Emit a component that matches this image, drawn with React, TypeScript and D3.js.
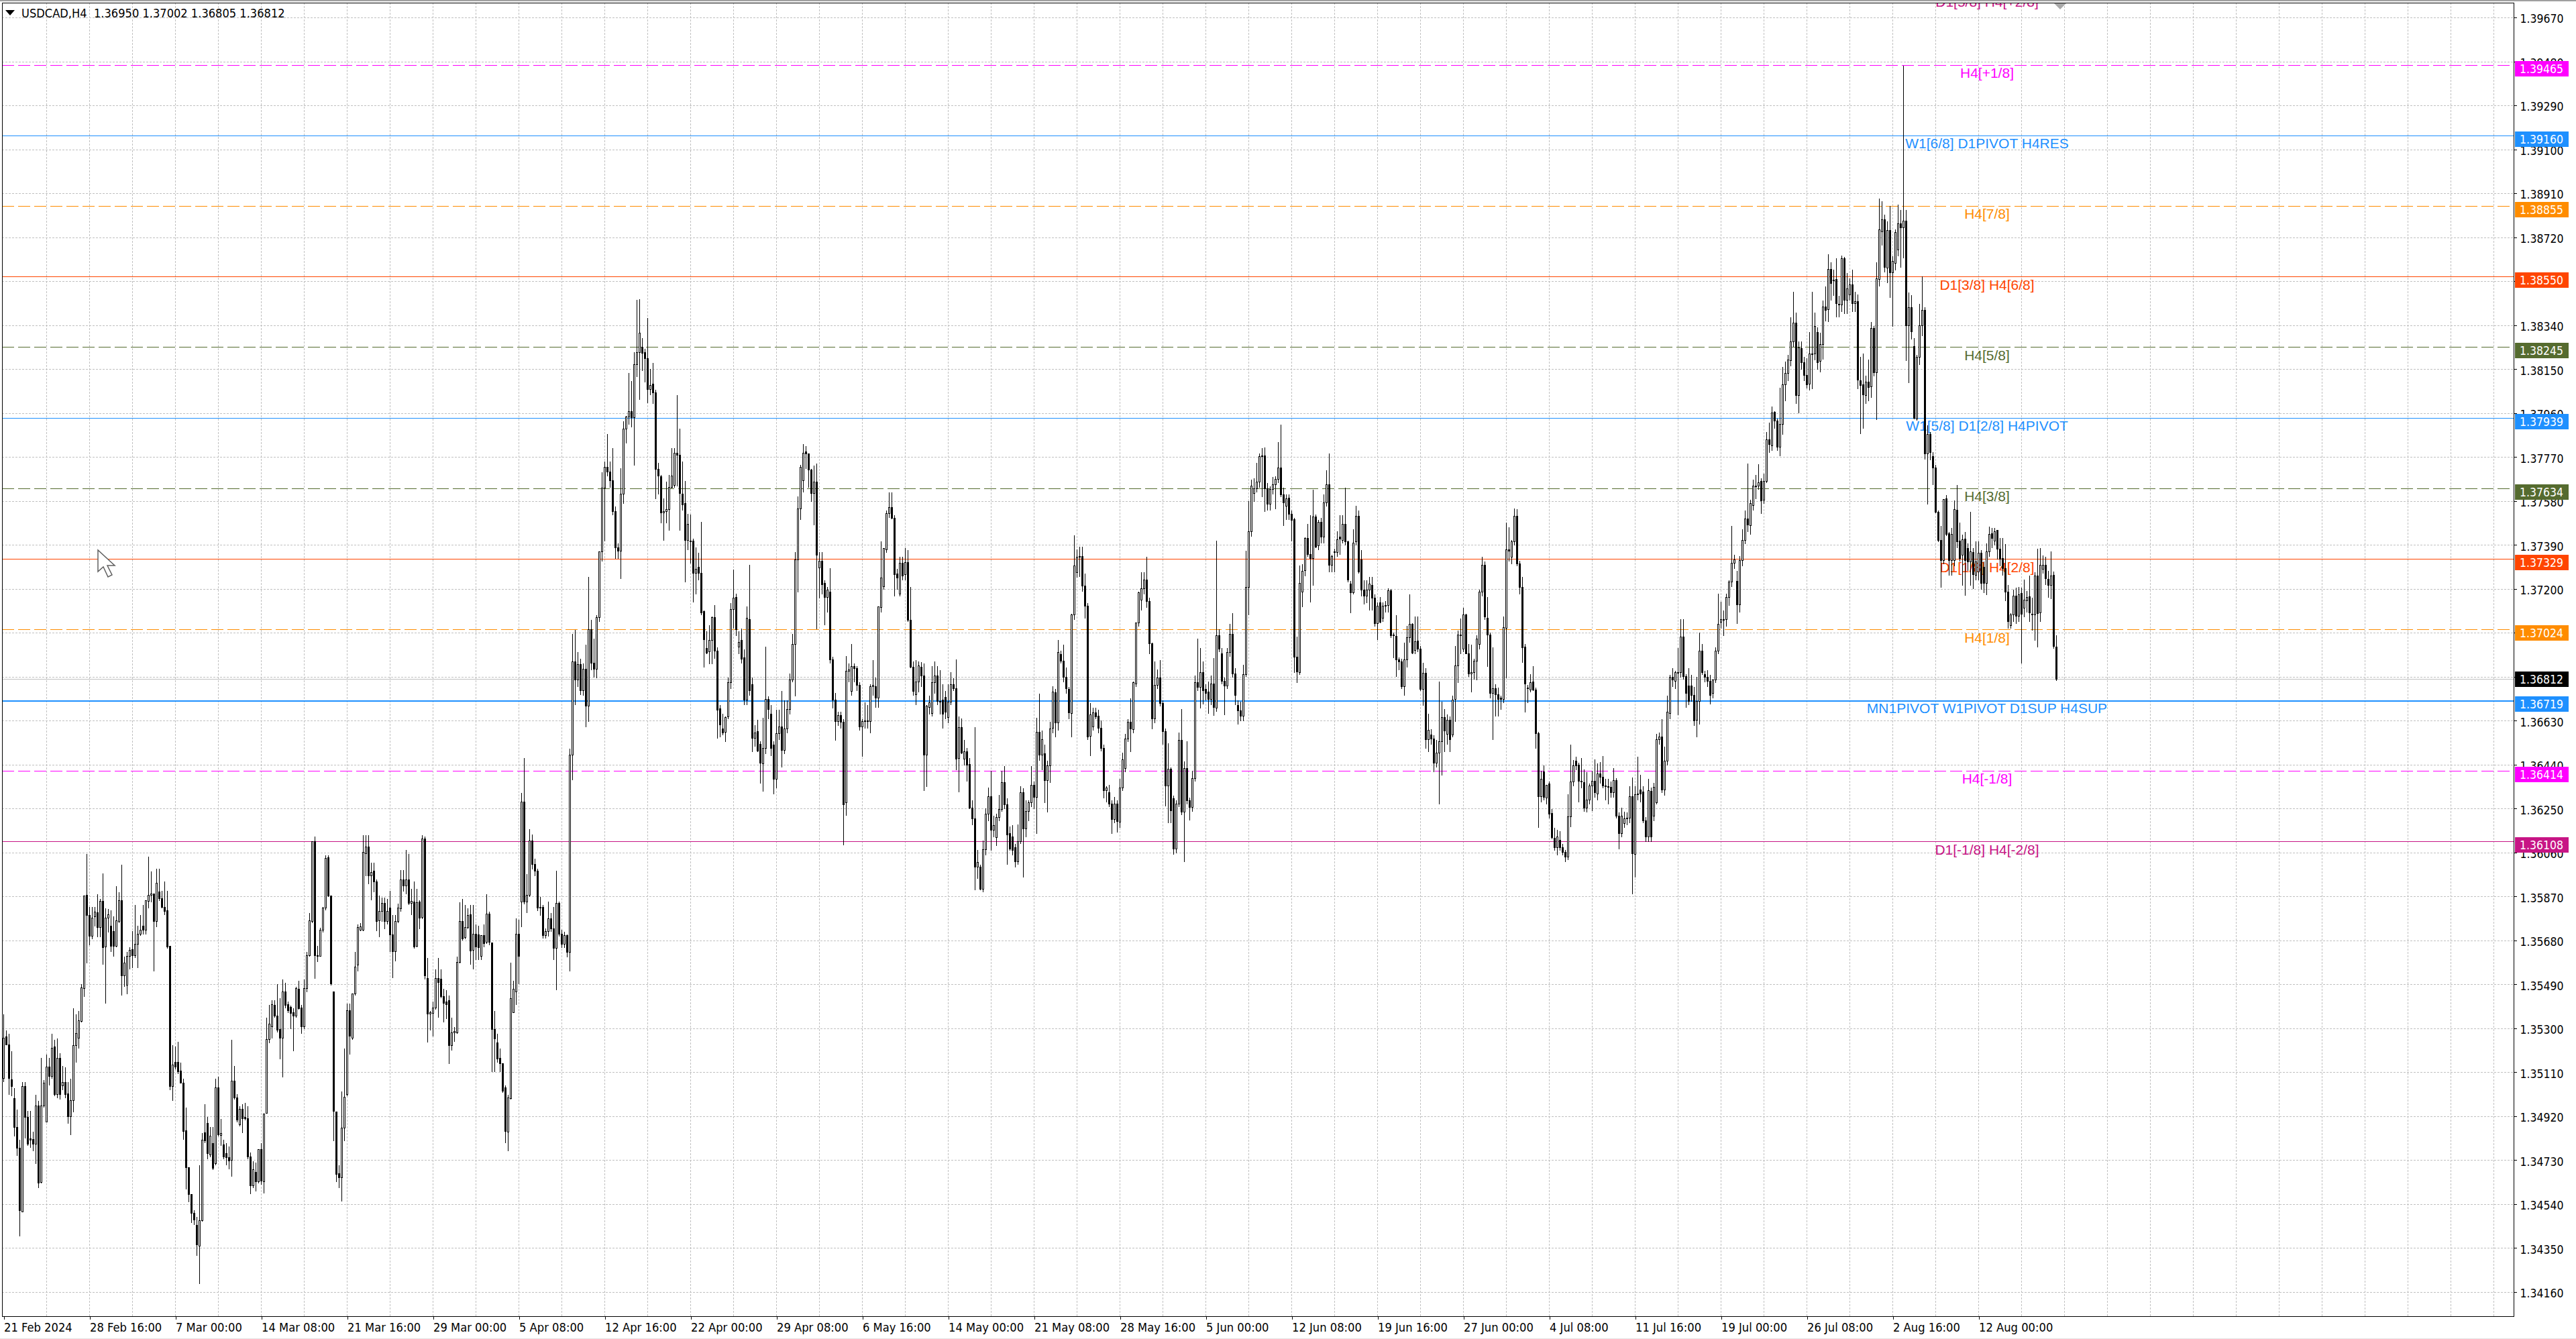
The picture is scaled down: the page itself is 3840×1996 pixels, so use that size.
import * as d3 from 'd3';
import { useEffect, useRef } from 'react';

// candles are [open, high, low, close], in points above 1.30000
type Bar = [number, number, number, number];

const febMarBars: Bar[] = [
  [5085,5363,5071,5259],[5266,5293,5231,5231],[5231,5279,5016,5085],[5078,5203,5009,5051],[4999,5044,4835,4873],[4874,4953,4752,4783],[4783,4821,4405,4513],[4509,5071,4509,5051],[5051,5071,4828,4916],[4916,4946,4794,4801],
  [4824,4946,4787,4819],[4821,4856,4773,4801],[4801,5016,4717,4965],[4967,4988,4613,4634],[4637,5175,4634,4965],[4965,5078,4960,5064],[4898,5189,4898,5134],[5134,5175,5057,5095],[5095,5279,5085,5217],[5221,5252,5009,5016],
  [5016,5259,5002,5171],[5171,5196,4995,5016],[5053,5141,5037,5067],[5069,5134,5002,5016],[5019,5071,4891,4921],[4921,5085,4842,4988],[4988,5391,4939,5228],[5228,5363,5155,5279],[5259,5377,5217,5335],[5331,5495,5328,5478],
  [5474,5874,5439,5874],[5876,6057,5585,5790],[5790,5828,5661,5699],[5699,5828,5689,5779],[5783,5828,5744,5803],[5800,5883,5696,5738],[5738,5862,5696,5851],[5851,5973,5578,5650],[5654,5821,5409,5779],[5779,5818,5717,5793],
  [5743,5814,5633,5657],[5721,5786,5613,5657],[5657,5918,5654,5768],[5765,5890,5758,5854],[5853,6011,5446,5529],[5529,5613,5481,5585],[5488,5633,5450,5613],[5613,5654,5557,5640],[5643,5724,5564,5615],[5615,5837,5606,5665],
  [5665,5745,5564,5710],[5710,5793,5703,5726],[5743,5835,5710,5726],[5726,5856,5710,5854],[5851,6046,5821,5876],[5876,5980,5849,5883],[5883,5883,5550,5763],[5763,5994,5740,5928],[5890,5994,5855,5862],[5862,5897,5821,5824],
  [5824,5939,5793,5807],[5810,5897,5647,5654],[5657,5657,5037,5051],[5051,5231,4988,5143],[5155,5224,5127,5134],[5155,5245,5106,5113],[5116,5155,5064,5064],[5064,5085,4822,4856],[4860,4960,4606,4699],[4699,4699,4551,4583],
  [4583,4586,4461,4502],[4502,4516,4454,4472],[4451,4488,4319,4366],[4359,4710,4197,4470],[4470,4849,4468,4819],[4849,4974,4808,4815],[4891,4919,4738,4759],[4755,4877,4745,4835],[4805,4877,4690,4697],[4717,5085,4710,5044],
  [5044,5095,4835,4842],[4838,4912,4794,4846],[4797,4821,4738,4745],[4759,4807,4710,4742],[4742,4791,4694,4727],[4731,5252,4662,5074],[5074,5141,4995,5000],[5000,5019,4898,4905],[4884,4967,4880,4953],[4953,4974,4849,4912],
  [4916,4981,4905,4910],[4912,4967,4738,4745],[4745,4766,4586,4620],[4620,4727,4613,4692],[4678,4724,4599,4638],[4638,4780,4634,4777],[4777,4808,4627,4641],[4638,4932,4590,4930],[4935,5349,4935,5252],[5252,5404,5238,5321],
  [5307,5425,5259,5404],[5402,5425,5349,5356],[5356,5495,5286,5293],[5296,5432,5168,5259],[5259,5515,5092,5460],[5460,5501,5391,5402],[5404,5418,5370,5379],[5393,5402,5300,5366],[5370,5391,5203,5356],[5356,5481,5349,5474],
  [5470,5508,5384,5388],[5391,5404,5280,5307],[5307,5515,5300,5474],[5474,5633,5460,5615],[5615,5800,5613,5768],[5765,6110,5758,6110],[6110,6133,5518,5615],[5615,5660,5590,5612],[5612,5739,5612,5726],[5726,5828,5717,5821],
  [5821,6050,5814,6036],[6039,6050,5870,5874],[5874,5874,5488,5495],[5460,5460,4815,4944],[4939,4939,4639,4669],[4672,4710,4613,4655],[4655,5030,4555,4870],[4870,5217,4815,5005],[5016,5411,5009,5377],[5377,5411,5189,5268],
  [5259,5453,5252,5450],[5450,5633,5446,5567],[5575,5751,5550,5738],[5726,5758,5724,5740],[5726,6137,5724,6061],[6057,6137,5960,6085],[6087,6137,5925,5962],[5962,6018,5856,5976],[5980,6018,5890,5935],[5935,5946,5724,5765],
  [5768,5876,5696,5807],[5807,5869,5765,5842],[5842,5869,5731,5765],[5765,5862,5751,5807],[5821,5897,5633,5706],[5706,5793,5520,5633],[5633,5793,5592,5763],[5763,5842,5758,5821],[5818,5987,5807,5943],[5943,5987,5893,5918],
  [5918,6075,5883,5943],[5943,6057,5835,5842],[5842,5907,5793,5851],[5849,5939,5647,5654],[5657,5907,5654,5846],[5849,5856,5731,5779],[5782,6137,5776,6119],[6119,6133,5515,5529],[5518,5606,5241,5363],[5363,5377,5293,5370],
  [5366,5418,5268,5391],[5391,5557,5384,5518],[5518,5606,5349,5499],[5513,5557,5432,5439],[5439,5474,5328,5411],[5415,5467,5342,5404],[5421,5446,5148,5227],[5227,5349,5207,5282],[5282,5307,5245,5288],[5282,5613,5280,5588],
  [5588,5849,5585,5763],[5763,5862,5682,5689],[5693,5835,5689,5738],[5738,5821,5731,5790],[5793,5835,5578,5636],[5638,5835,5557,5710],[5710,5751,5599,5654],[5707,5745,5599,5651],[5613,5703,5599,5703],[5703,5751,5654,5668],
  [5675,5883,5668,5796],[5796,5807,5661,5675],[5672,5675,5113,5298],[5298,5377,5113,5255],[5238,5279,5155,5168],[5173,5217,5113,5148],[5148,5148,5023,5030],[5044,5057,4807,4856],[4852,5016,4773,5002],[4999,5588,4995,5429],
  [5370,5509,5370,5471],[5460,5779,5404,5710],[5710,5772,5495,5613],
];

const aprMayBars: Bar[] = [
  [5849,6321,5740,6279],[6279,6471,5840,5849],[5849,5970,5800,5876],[5876,6165,5870,6112],[6112,6140,5990,6011],[6011,6035,5960,5980],[5980,5994,5810,5821],[5821,5870,5790,5825],[5825,5835,5690,5703],[5703,5735,5690,5721],
  [5721,5850,5700,5776],[5776,5800,5720,5731],[5731,5828,5599,5647],[5647,5983,5467,5842],[5842,5850,5700,5710],[5710,5730,5650,5665],[5665,5720,5650,5703],[5703,5710,5610,5629],[5629,6512,5550,6482],[6482,7008,6375,6887],
  [6887,7025,6700,6807],[6807,6930,6780,6875],[6875,6900,6745,6762],[6762,6880,6740,6854],[6854,6962,6604,6696],[6696,7253,6629,7025],[7025,7070,6850,6879],[6879,6987,6820,6854],[6854,7090,6815,7078],[7078,7361,7060,7361],
  [7361,7708,7320,7636],[7636,7753,7408,7728],[7728,7873,7690,7708],[7708,7753,7640,7670],[7670,7811,7520,7536],[7536,7560,7333,7378],[7378,7400,7333,7365],[7365,7724,7245,7611],[7611,7928,7570,7891],[7891,7950,7831,7944],
  [7944,8136,7914,7969],[7969,8100,7900,7941],[7941,8227,7736,8172],[8172,8452,8119,8222],[8222,8455,8019,8306],[8247,8286,8144,8219],[8222,8240,8094,8197],[8197,8374,8006,8064],[8064,8152,8040,8081],[8086,8180,8003,8049],
  [8049,8064,7591,7719],[7719,7747,7611,7689],[7686,7695,7486,7531],[7531,7595,7411,7536],[7536,7665,7486,7545],[7545,7695,7453,7641],[7641,7811,7636,7689],[7648,7811,7640,7789],[7789,8039,7645,7778],[7778,7894,7453,7615],
  [7611,7753,7540,7566],[7570,7670,7232,7411],[7411,7528,7370,7481],[7408,7523,7311,7405],[7408,7420,7145,7270],[7270,7381,7178,7286],[7295,7360,7240,7270],[7270,7491,7090,7098],[7103,7110,6862,6982],[6945,7020,6920,6925],
  [6929,7045,6878,6979],[6979,7082,6878,7078],[7078,7132,6900,6932],[6932,6950,6554,6676],[6682,6700,6560,6612],[6596,6662,6570,6579],[6582,6650,6542,6646],[6649,6820,6640,6795],[6795,7140,6770,7112],[7112,7287,7030,7162],
  [7165,7182,7000,7025],[6949,7020,6920,6970],[6978,7030,6880,6899],[6904,6940,6700,6720],[6720,7127,6700,7075],[7070,7307,6740,6762],[6787,6820,6496,6554],[6554,6612,6520,6579],[6584,6637,6498,6500],[6528,6545,6362,6449],
  [6445,6645,6326,6512],[6512,6954,6490,6725],[6725,6738,6640,6679],[6659,6700,6480,6512],[6527,6545,6316,6379],[6379,6679,6340,6576],[6576,6679,6550,6604],[6604,6762,6430,6504],[6504,6720,6490,6596],[6596,6720,6580,6679],
  [6679,6837,6660,6809],[6809,7008,6800,6962],[6962,7361,6737,7328],[7328,7603,7187,7548],[7548,7740,7500,7728],[7670,7828,7620,7789],[7794,7819,7720,7784],[7784,7785,7640,7714],[7714,7720,7578,7615],[7615,7736,7478,7664],
  [7664,7744,7028,7348],[7292,7361,7162,7320],[7320,7361,7180,7220],[7225,7240,7045,7165],[7165,7210,7100,7195],[7187,7292,6880,6895],[6895,6910,6687,6720],[6720,6754,6546,6629],[6629,6670,6610,6654],[6654,6670,6600,6626],
  [6626,6640,6093,6268],[6276,6912,6221,6845],[6845,6880,6800,6852],[6759,6965,6740,6865],[6865,6880,6800,6857],[6857,6870,6760,6784],[6784,6800,6590,6604],[6604,6640,6476,6628],[6628,6712,6600,6632],[6632,6700,6600,6628],
  [6628,6790,6580,6779],[6779,6895,6740,6785],[6779,6820,6690,6729],[6729,7125,6690,7124],[7120,7408,7100,7248],[7212,7380,7200,7375],[7370,7540,7360,7528],[7528,7620,7510,7553],[7553,7620,7505,7508],[7508,7520,7170,7262],
  [7265,7290,7200,7248],[7178,7340,7170,7312],[7312,7340,7240,7258],[7262,7378,7240,7315],[7315,7370,7060,7065],[7065,7212,6860,6862],[6862,6890,6740,6759],[6745,6895,6700,6799],[6799,6890,6755,6870],[6862,6885,6780,6825],
  [6825,6880,6329,6482],[6482,6700,6346,6695],[6689,6740,6660,6709],[6662,6870,6650,6795],[6795,6890,6750,6825],[6825,6868,6700,6715],[6715,6850,6660,6715],[6720,6790,6600,6660],
];

const mayJunBars: Bar[] = [
  [6733,6760,6640,6669],[6645,6790,6622,6713],[6713,6842,6700,6786],[6786,6815,6760,6769],[6769,6899,6419,6466],[6469,6650,6322,6602],[6602,6642,6490,6493],[6466,6549,6440,6496],[6496,6516,6369,6438],[6442,6470,6250,6253],
  [6253,6290,6180,6207],[6207,6605,5899,6000],[6000,6073,5950,6020],[6000,6010,5899,5903],[5903,6116,5890,6074],[6074,6253,6050,6227],[6227,6343,6200,6303],[6303,6416,6070,6159],[6159,6223,6130,6179],[6126,6230,6090,6212],
  [6212,6312,6200,6249],[6249,6416,6240,6365],[6365,6436,6250,6267],[6267,6296,6010,6139],[6143,6176,6070,6076],[6130,6180,6050,6070],[6083,6100,6000,6023],[6023,6183,6010,6110],[6110,6349,6100,6320],[6320,6340,5954,6165],
  [6165,6290,6130,6240],[6240,6290,6200,6276],[6276,6436,6260,6353],[6353,6370,6250,6300],[6300,6645,6143,6582],[6582,6751,6460,6482],[6482,6590,6420,6549],[6489,6530,6276,6373],[6373,6460,6236,6436],[6436,6629,6363,6596],
  [6600,6782,6580,6755],[6753,6769,6562,6622],[6622,6982,6590,6928],[6918,6935,6880,6888],[6888,6962,6800,6818],[6818,6862,6750,6769],[6766,6780,6640,6666],[6662,7095,6562,7088],[7088,7434,7070,7301],[7272,7372,7250,7337],
  [7337,7385,7255,7340],[7341,7385,7190,7215],[7215,7268,7075,7128],[7128,7140,6550,6562],[6565,6709,6479,6658],[6605,6689,6590,6666],[6665,6689,6640,6649],[6651,6680,6580,6600],[6600,6635,6500,6512],[6512,6530,6296,6329],
  [6329,6350,6280,6340],[6320,6356,6260,6272],[6272,6290,6143,6205],[6205,6303,6190,6272],[6272,6290,6150,6196],[6192,6382,6170,6342],[6342,6495,6330,6462],[6426,6576,6410,6553],[6553,6640,6540,6625],[6625,6729,6498,6596],
  [6592,6802,6580,6795],[6791,7055,6780,7055],[7055,7190,7040,7185],[7152,7275,7108,7201],[7201,7275,7180,7239],[7241,7341,7120,7148],[7148,7165,6922,6964],[6964,6970,6595,6640],[6640,6890,6622,6785],[6785,6855,6770,6815],
  [6815,6895,6695,6706],[6706,6720,6529,6585],[6585,6600,6263,6349],[6349,6535,6190,6422],[6422,6430,6190,6243],[6295,6310,6054,6076],[6076,6290,6060,6272],[6272,6581,6260,6546],[6546,6682,6225,6236],[6236,6456,6023,6426],
  [6426,6545,6270,6287],[6287,6300,6203,6256],[6256,6415,6240,6382],[6380,6828,6370,6795],[6795,6988,6760,6775],[6775,6948,6685,6839],[6839,6888,6702,6762],[6768,6790,6720,6751],[6755,6802,6662,6725],[6725,6829,6700,6791],
  [6791,6902,6653,6689],[6686,7412,6670,6999],[6999,7028,6930,6942],[6922,6948,6790,6802],[6802,6820,6658,6782],[6782,6948,6770,6928],[6928,7052,6910,7006],[7006,7098,6820,6835],[6835,6860,6700,6742],[6698,6720,6616,6673],
  [6673,6715,6630,6651],[6650,6875,6630,6832],[6832,7368,6822,7208],[7208,7581,7090,7450],[7450,7674,7428,7647],[7614,7680,7580,7634],[7634,7747,7620,7663],[7663,7787,7640,7774],[7774,7810,7600,7777],[7777,7814,7537,7634],
  [7634,7660,7540,7568],[7568,7647,7540,7631],[7631,7687,7610,7651],[7651,7690,7548,7674],[7674,7838,7660,7725],[7725,7914,7600,7607],[7607,7640,7474,7574],[7558,7610,7500,7590],[7594,7610,7500,7524],[7524,7540,7408,7497],
  [7501,7510,6839,6906],[6906,6995,6795,6842],[6839,7305,6830,7224],[7188,7308,7124,7277],[7281,7425,7258,7421],[7421,7484,7340,7350],[7350,7521,7144,7332],[7332,7630,7217,7512],[7512,7524,7380,7381],[7388,7500,7370,7488],
  [7488,7510,7400,7425],[7425,7611,7400,7574],[7574,7714,7560,7651],[7651,7787,7275,7305],[7305,7350,7275,7341],[7362,7375,7275,7358],[7358,7452,7340,7414],[7425,7521,7350,7417],[7412,7521,7400,7481],[7481,7641,7390,7404],
  [7404,7410,7230,7241],[7221,7238,7099,7185],[7185,7460,7180,7398],[7404,7561,7390,7514],[7514,7540,7270,7275],
];

const junJulBars: Bar[] = [
  [7328,7370,7170,7195],[7195,7240,7135,7171],[7171,7240,7140,7195],[7195,7255,7110,7221],[7217,7253,7110,7161],[7161,7180,7040,7052],[7052,7145,6982,7128],[7142,7168,7055,7058],[7075,7145,7060,7128],[7128,7150,7100,7131],
  [7131,7205,7100,7192],[7192,7203,6990,7000],[7002,7015,6902,7000],[6995,7088,6822,6895],[6895,6905,6850,6886],[6886,6900,6770,6778],[6778,6970,6742,6895],[6895,7042,6862,6991],[6991,7178,6970,7048],[7048,7055,6920,6924],
  [6935,7082,6920,6972],[6975,7082,6930,6942],[6942,6955,6760,6768],[6768,6884,6698,6838],[6838,6860,6512,6549],[6549,6662,6496,6591],[6569,6596,6530,6552],[6552,6570,6409,6449],[6449,6550,6430,6493],[6493,6802,6272,6542],
  [6542,6715,6396,6645],[6645,6682,6496,6586],[6572,6660,6530,6635],[6635,6650,6496,6549],[6569,6742,6560,6722],[6725,6955,6628,6868],[6868,7022,6795,7002],[7002,7075,6922,7002],[6942,7121,6930,7088],[7088,7095,6925,6922],
  [6922,6964,6822,6835],[6835,6962,6755,6839],[6839,6900,6810,6889],[6889,7002,6809,6986],[6962,7200,6940,7188],[7188,7341,7170,7304],[7304,7320,7070,7079],[7075,7168,6866,7002],[7002,7015,6730,6749],[6749,6951,6549,6771],
  [6771,6790,6650,6745],[6745,6775,6650,6725],[6729,6740,6680,6725],[6725,7084,6710,7035],[7032,7488,6815,7371],[7371,7468,7320,7365],[7339,7414,7308,7404],[7404,7550,7390,7514],[7514,7548,7300,7308],[7308,7325,7180,7208],
  [7208,7255,6882,6948],[6951,6965,6669,6789],[6772,6788,6709,6769],[6765,6835,6755,6795],[6799,6868,6760,6765],[6765,6775,6512,6575],[6575,6585,6169,6303],[6303,6416,6280,6379],[6409,6440,6290,6299],[6296,6355,6270,6352],
  [6359,6370,6210,6229],[6232,6250,6120,6126],[6123,6170,6072,6083],[6083,6160,6050,6130],[6116,6156,6070,6083],[6083,6100,6050,6063],[6063,6075,6023,6043],[6043,6316,6030,6216],[6216,6529,6173,6366],[6366,6462,6350,6436],
  [6458,6476,6420,6436],[6438,6450,6280,6369],[6369,6470,6340,6369],[6363,6423,6240,6253],[6253,6409,6236,6289],[6289,6360,6270,6349],[6349,6416,6243,6369],[6369,6466,6300,6320],[6316,6449,6290,6402],[6402,6453,6360,6387],
  [6387,6479,6340,6349],[6349,6380,6290,6347],[6347,6382,6272,6347],[6343,6370,6300,6320],[6320,6428,6300,6372],[6372,6385,6210,6219],[6219,6235,6076,6143],[6143,6256,6130,6219],[6187,6240,6170,6206],[6206,6236,6180,6209],
  [6209,6349,6190,6303],[6303,6386,5883,6056],[6053,6349,5954,6312],[6312,6476,6290,6316],[6332,6400,6280,6316],[6323,6350,6190,6200],[6200,6215,6110,6129],[6129,6382,6110,6329],[6327,6345,6110,6129],[6220,6363,6200,6343],
  [6276,6575,6270,6551],[6551,6582,6530,6562],[6562,6639,6320,6333],[6333,6522,6310,6458],[6458,6742,6440,6669],[6662,6830,6640,6818],[6818,6860,6780,6808],[6802,6848,6770,6839],[6839,6946,6658,6839],[6839,7072,6820,6992],
  [6992,7072,6810,6822],[6822,6835,6688,6749],[6782,6860,6700,6715],[6782,6830,6715,6742],[6742,6780,6610,6631],[6635,6822,6562,6715],[6715,7015,6615,6931],[6931,6964,6830,6839],[6831,6848,6800,6818],[6818,6850,6780,6802],
  [6802,6830,6702,6742],[6749,6810,6730,6808],[6808,6950,6795,6932],[6932,7181,6920,7048],[7058,7148,7030,7068],[7068,7108,7000,7068],[7068,7181,7040,7164],[7164,7240,7130,7232],[7232,7474,7210,7312],[7312,7351,7290,7328],
  [7235,7281,7052,7132],[7132,7345,7100,7324],[7324,7461,7300,7412],[7412,7541,7395,7505],[7505,7745,7450,7478],[7475,7588,7438,7571],[7561,7674,7540,7647],[7647,7694,7590,7647],[7647,7741,7630,7661],[7665,7680,7528,7581],
  [7585,7701,7570,7667],[7667,7880,7660,7847],[7847,7920,7790,7827],
];

const julAugBars: Bar[] = [
  [7821,7992,7800,7962],[7966,7972,7895,7928],[7928,7940,7799,7814],[7814,8073,7777,7913],[7913,8162,7868,8085],[8085,8184,8014,8132],[8132,8213,8100,8191],[8188,8376,8165,8268],[8268,8487,8250,8351],[8351,8398,8002,8036],
  [8036,8273,7962,8243],[8239,8273,8150,8179],[8179,8206,8100,8125],[8125,8199,8070,8085],[8088,8313,8060,8216],[8216,8487,8065,8218],[8218,8398,8190,8335],[8310,8332,8150,8179],[8184,8310,8140,8258],[8258,8450,8194,8421],
  [8421,8509,8360,8406],[8409,8650,8357,8583],[8583,8613,8450,8521],[8535,8583,8470,8533],[8539,8632,8376,8435],[8431,8470,8376,8431],[8428,8643,8400,8628],[8628,8638,8391,8450],[8450,8569,8391,8499],[8472,8546,8450,8517],
  [8517,8583,8400,8435],[8435,8487,8400,8443],[8443,8475,8065,8105],[8100,8206,7873,8080],[8085,8221,7895,8040],[8036,8125,8002,8095],[8095,8194,8014,8073],[8076,8357,8028,8327],[8327,8339,8120,8135],[8135,8613,7932,8543],
  [8539,8890,8510,8754],[8746,8879,8687,8798],[8798,8820,8570,8591],[8588,8790,8524,8751],[8751,8857,8460,8569],[8569,8640,8336,8617],[8609,8756,8580,8742],[8668,8864,8640,8780],[8780,8842,8590,8761],[8761,9465,8632,8791],
  [8791,8842,8188,8339],[8339,8484,8091,8416],[8416,8472,8280,8313],[8250,8287,7936,7940],[7937,8213,7930,8202],[8202,8435,8170,8339],[8339,8554,8295,8406],[8406,8421,7762,7784],[7784,7910,7567,7869],[7869,7880,7760,7790],
  [7772,7795,7651,7725],[7725,7740,7530,7533],[7533,7540,7405,7410],[7410,7475,7207,7325],[7325,7592,7310,7587],[7592,7607,7430,7436],[7439,7450,7259,7325],[7325,7466,7259,7437],[7325,7584,7300,7543],[7540,7651,7380,7404],
  [7407,7488,7320,7333],[7348,7436,7217,7414],[7418,7450,7173,7325],[7377,7400,7280,7318],[7318,7537,7217,7362],[7360,7380,7203,7262],[7259,7407,7240,7318],[7274,7407,7240,7355],[7355,7370,7200,7226],[7296,7320,7185,7226],
  [7226,7400,7177,7362],[7362,7473,7340,7436],[7439,7466,7380,7419],[7407,7466,7390,7449],[7455,7458,7330,7374],[7374,7422,7300,7330],[7333,7422,7260,7288],[7288,7395,7150,7188],[7188,7220,7030,7059],[7044,7099,7030,7088],
  [7088,7200,7060,7170],[7170,7207,7050,7084],[7084,7211,7060,7177],[7182,7207,6881,7093],[7118,7244,7080,7152],[7150,7192,7100,7163],[7167,7259,7060,7099],[7093,7163,7022,7093],[7088,7276,6978,7256],[7256,7377,6951,7096],
  [7097,7380,7060,7303],[7285,7348,7270,7303],[7303,7340,7220,7247],[7244,7281,7163,7217],[7217,7365,7158,7256],[7259,7277,6945,6952],[6950,7002,6805,6812],
];

const priceTicks = [1.3967,1.3948,1.3929,1.391,1.3891,1.3872,1.3853,1.3834,1.3815,1.3796,1.3777,1.3758,1.3739,1.372,1.3701,1.3682,1.3663,1.3644,1.3625,1.3606,1.3587,1.3568,1.3549,1.353,1.3511,1.3492,1.3473,1.3454,1.3435,1.3416];

const timeLabels = ['21 Feb 2024','28 Feb 16:00','7 Mar 00:00','14 Mar 08:00','21 Mar 16:00','29 Mar 00:00','5 Apr 08:00','12 Apr 16:00','22 Apr 00:00','29 Apr 08:00','6 May 16:00','14 May 00:00','21 May 08:00','28 May 16:00','5 Jun 00:00','12 Jun 08:00','19 Jun 16:00','27 Jun 00:00','4 Jul 08:00','11 Jul 16:00','19 Jul 00:00','26 Jul 08:00','2 Aug 16:00','12 Aug 00:00'];

const levelPrices = [1.39772,1.39465,1.3916,1.38855,1.3855,1.38245,1.37939,1.37634,1.37329,1.37024,1.36719,1.36414,1.36108];
const levelNames = ['D1[5/8] H4[+2/8]','H4[+1/8]','W1[6/8] D1PIVOT H4RES','H4[7/8]','D1[3/8] H4[6/8]','H4[5/8]','W1[5/8] D1[2/8] H4PIVOT','H4[3/8]','D1[1/8] H4[2/8]','H4[1/8]','MN1PIVOT W1PIVOT D1SUP H4SUP','H4[-1/8]','D1[-1/8] H4[-2/8]'];
const levelColors = ['#c71585','#ff00ff','#1e90ff','#ff8c00','#ff4500','#556b2f','#1e90ff','#556b2f','#ff4500','#ff8c00','#1e90ff','#ff00ff','#c71585'];
const levelDashed = [false,true,false,true,false,true,false,true,false,true,false,true,false];
const levelWidths = [1,1,1,1,1,1,1,1,1,1,2,1,1];

const lastPrice = 1.36812;
const title = 'USDCAD,H4  1.36950 1.37002 1.36805 1.36812';

const axisFont = '"DejaVu Sans Condensed", "DejaVu Sans", sans-serif';
const labelFont = '"Liberation Sans", Arial, sans-serif';

export default function App() {
  const ref = useRef<SVGSVGElement | null>(null);

  useEffect(() => {
    const svg = d3.select(ref.current);
    svg.selectAll('*').remove();

    const width = 3840;
    const height = 1996;
    const left = 3;
    const top = 4;
    const right = 3747;
    const bottom = 1962;

    const bars = [...febMarBars, ...aprMayBars, ...mayJunBars, ...junJulBars, ...julAugBars];
    const toPrice = (v: number) => 1.3 + v / 100000;

    const x = d3.scaleLinear().domain([0, 1]).range([5.5, 9.5]);
    const y = d3.scaleLinear().domain([1.3967, 1.3416]).range([26, 1926]);
    const py = (p: number) => Math.round(y(p)) + 0.5;

    svg.attr('width', width).attr('height', height)
      .style('position', 'fixed').style('left', 0).style('top', 0).style('background', '#fff');

    svg.append('rect').attr('width', width).attr('height', 2).attr('fill', '#a0a0a0');
    svg.append('rect').attr('y', 1995).attr('width', width).attr('height', 1).attr('fill', '#e4e4e4');

    svg.append('clipPath').attr('id', 'plot').append('rect')
      .attr('x', left).attr('y', top + 1).attr('width', right - left).attr('height', bottom - top - 1);

    const plot = svg.append('g').attr('clip-path', 'url(#plot)').attr('shape-rendering', 'crispEdges');

    // grid, one vertical every 16 bars
    const gridBars = d3.range(1, 59).map(k => k * 16);
    plot.append('g').selectAll('line').data(gridBars).join('line')
      .attr('x1', d => x(d)).attr('x2', d => x(d)).attr('y1', top).attr('y2', bottom)
      .attr('stroke', '#c0c0c0').attr('stroke-dasharray', '3 2');
    plot.append('g').selectAll('line').data(priceTicks).join('line')
      .attr('x1', left).attr('x2', right).attr('y1', d => py(d)).attr('y2', d => py(d))
      .attr('stroke', '#c0c0c0').attr('stroke-dasharray', '3 2');

    // murrey levels and their names
    levelPrices.forEach((p, i) => {
      plot.append('line')
        .attr('x1', left).attr('x2', levelDashed[i] ? right - 3 : right).attr('y1', py(p)).attr('y2', py(p))
        .attr('stroke', levelColors[i]).attr('stroke-width', levelWidths[i])
        .attr('stroke-dasharray', levelDashed[i] ? '18 6' : null);
      plot.append('text')
        .attr('x', 2962).attr('y', y(p) + 12).attr('dy', '0.35em')
        .attr('text-anchor', 'middle').attr('font-family', labelFont).attr('font-size', 21)
        .attr('shape-rendering', 'auto').attr('fill', levelColors[i]).text(levelNames[i]);
    });

    plot.append('line').attr('x1', left).attr('x2', right).attr('y1', py(lastPrice)).attr('y2', py(lastPrice))
      .attr('stroke', '#c0c0c0');

    // candles
    const candles = plot.append('g').selectAll('g').data(bars).join('g');
    candles.append('line')
      .attr('x1', (_, i) => x(i)).attr('x2', (_, i) => x(i))
      .attr('y1', d => py(toPrice(d[1]))).attr('y2', d => py(toPrice(d[2])))
      .attr('stroke', '#000');
    candles.append('rect')
      .attr('x', (_, i) => x(i) - 1).attr('width', 2)
      .attr('y', d => py(toPrice(Math.max(d[0], d[3]))))
      .attr('height', d => Math.max(1, py(toPrice(Math.min(d[0], d[3]))) - py(toPrice(Math.max(d[0], d[3])))))
      .attr('fill', d => (d[3] >= d[0] ? '#fff' : '#000'))
      .attr('stroke', '#000');

    // mouse pointer and chart shift marker
    plot.append('path').attr('d', 'M146 820v32l8-7 7 15 6-3-7-14h11z')
      .attr('fill', '#fff').attr('stroke', '#606060').attr('stroke-width', 1.5).attr('shape-rendering', 'auto');
    plot.append('path').attr('d', 'M3062 5h18l-9 9z').attr('fill', '#a8a8a8').attr('shape-rendering', 'auto');

    // frame
    svg.append('rect').attr('x', left + 0.5).attr('y', top + 0.5)
      .attr('width', right - left).attr('height', bottom - top)
      .attr('fill', 'none').attr('stroke', '#000').attr('shape-rendering', 'crispEdges');

    // axes
    const yAxis = svg.append('g').attr('transform', `translate(${right + 0.5},0)`)
      .call(d3.axisRight(y).tickValues(priceTicks).tickFormat(d => (d as number).toFixed(5)).tickSize(4).tickPadding(5));
    yAxis.select('.domain').remove();
    yAxis.selectAll('line').attr('stroke', '#000').attr('shape-rendering', 'crispEdges');
    yAxis.selectAll('text').attr('font-family', axisFont).attr('font-size', 17.5).attr('fill', '#000')
      .attr('dy', '0.45em');

    const timeBars = timeLabels.map((_, k) => k * 32);
    const xAxis = svg.append('g').attr('transform', `translate(0,${bottom + 0.5})`)
      .call(d3.axisBottom(x).tickValues(timeBars).tickFormat((_, k) => timeLabels[k]).tickSize(4).tickPadding(6));
    xAxis.select('.domain').remove();
    xAxis.selectAll('line').attr('stroke', '#000').attr('shape-rendering', 'crispEdges');
    xAxis.selectAll('text').attr('font-family', axisFont).attr('font-size', 18.2).attr('fill', '#000')
      .attr('text-anchor', 'start');

    // price tags on the scale, the bid tag sits centred on its line
    const tags = levelPrices.map((p, i) => ({ p, fill: levelColors[i], up: 6 })).slice(1);
    tags.push({ p: lastPrice, fill: '#000', up: 11 });
    const tag = svg.append('g').selectAll('g').data(tags).join('g');
    tag.append('rect').attr('x', 3749).attr('y', d => Math.round(y(d.p)) - d.up)
      .attr('width', 80).attr('height', 23).attr('fill', d => d.fill).attr('shape-rendering', 'crispEdges');
    tag.append('text').attr('x', 3756).attr('y', d => Math.round(y(d.p)) - d.up + 11.5).attr('dy', '0.35em')
      .attr('font-family', axisFont).attr('font-size', 17.5).attr('fill', '#fff')
      .text(d => d.p.toFixed(5));

    // title
    svg.append('path').attr('d', 'M8 15h14l-7 8z').attr('fill', '#000');
    svg.append('text').attr('x', 32).attr('y', 19.5).attr('dy', '0.35em')
      .attr('font-family', axisFont).attr('font-size', 18.1).attr('fill', '#000')
      .style('white-space', 'pre').text(title);
  }, []);

  return <svg ref={ref}></svg>;
}
